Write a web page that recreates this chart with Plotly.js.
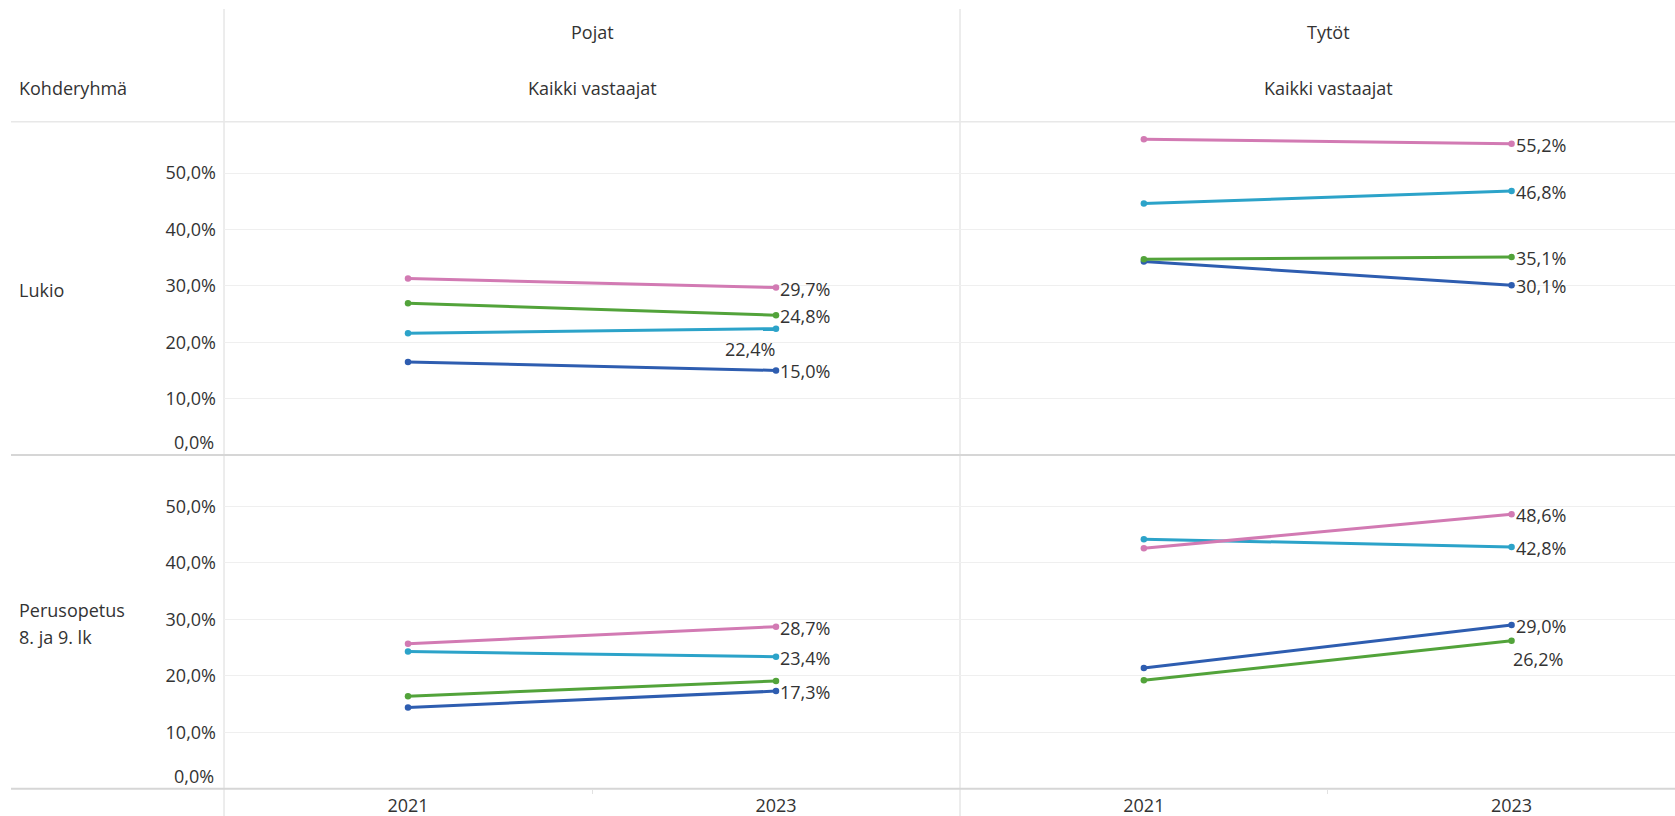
<!DOCTYPE html>
<html>
<head>
<meta charset="utf-8">
<script src="https://cdn.plot.ly/plotly-3.0.1.min.js"></script>
<style>html,body{margin:0;padding:0;background:#fff;}#chart{width:1675px;height:816px;}</style>
</head>
<body>
<div id="chart"></div>
<script>
// ---------- data ----------
const years = [2021, 2023];
const yTicks = [10, 20, 30, 40, 50];
const colHeaders = ['Pojat', 'Tytöt'];
const subHeader = 'Kaikki vastaajat';
const rowHeaderTitle = 'Kohderyhmä';
const rowLukio = ['Lukio'];
const rowPerus = ['Perusopetus', '8. ja 9. lk'];
const seriesNames = ['Sininen', 'Turkoosi', 'Vihreä', 'Pinkki'];

// Lukio – Pojat
const lukioPojatBlue  = [16.5, 15.0];
const lukioPojatCyan  = [21.6, 22.4];
const lukioPojatGreen = [26.9, 24.8];
const lukioPojatPink  = [31.3, 29.7];
// Lukio – Tytöt
const lukioTytotBlue  = [34.3, 30.1];
const lukioTytotCyan  = [44.6, 46.8];
const lukioTytotGreen = [34.7, 35.1];
const lukioTytotPink  = [56.0, 55.2];
// Perusopetus – Pojat
const perusPojatBlue  = [14.4, 17.3];
const perusPojatCyan  = [24.3, 23.4];
const perusPojatGreen = [16.4, 19.1];
const perusPojatPink  = [25.7, 28.7];
// Perusopetus – Tytöt
const perusTytotBlue  = [21.4, 29.0];
const perusTytotCyan  = [44.2, 42.8];
const perusTytotGreen = [19.2, 26.2];
const perusTytotPink  = [42.6, 48.6];

// ---------- styling ----------
const colors = ['#2E5DB0', '#2CA3C9', '#52A33A', '#D27AB3'];
const W = 1675, H = 816;
const px = v => v / W;
const py = v => 1 - v / H;
const fmt = v => v.toFixed(1).replace('.', ',') + '%';
const txtColor = '#333333';
const FONT = '"Open Sans", "Noto Sans", sans-serif';

// label placement per series: 'r' = right of last point, 'bl' = below-left, 'br' = below-right, null = hidden
const panels = [
  {xa: 'x',  ya: 'y',  data: [lukioPojatBlue, lukioPojatCyan, lukioPojatGreen, lukioPojatPink], lab: ['r', 'bl', 'r', 'r']},
  {xa: 'x2', ya: 'y2', data: [lukioTytotBlue, lukioTytotCyan, lukioTytotGreen, lukioTytotPink], lab: ['r', 'r', 'r', 'r']},
  {xa: 'x3', ya: 'y3', data: [perusPojatBlue, perusPojatCyan, perusPojatGreen, perusPojatPink], lab: ['r', 'r', null, 'r']},
  {xa: 'x4', ya: 'y4', data: [perusTytotBlue, perusTytotCyan, perusTytotGreen, perusTytotPink], lab: ['r', 'r', 'br', 'r']}
];

const traces = [];
const dataLabels = [];
panels.forEach(p => {
  p.data.forEach((vals, i) => {
    traces.push({
      type: 'scatter', mode: 'lines+markers',
      x: years, y: vals, xaxis: p.xa, yaxis: p.ya,
      name: seriesNames[i],
      line: {color: colors[i], width: 3},
      marker: {color: colors[i], size: 6.5},
      hoverinfo: 'x+y'
    });
    const kind = p.lab[i];
    if (!kind) return;
    const last = vals.length - 1;
    const a = {text: fmt(vals[last]), x: years[last], y: vals[last], xref: p.xa, yref: p.ya,
      showarrow: false, font: {family: FONT, size: 18, color: txtColor}, yanchor: 'middle'};
    if (kind === 'r') { a.xanchor = 'left'; a.xshift = 2; a.yshift = -1; }
    else if (kind === 'bl') { a.xanchor = 'right'; a.xshift = 1; a.yshift = -20; }
    else if (kind === 'br') { a.xanchor = 'left'; a.xshift = -1; a.yshift = -18; }
    dataLabels.push(a);
  });
});

const col1 = [px(224), px(960)];
const col2 = [px(960), 1];
const row1 = [py(455), py(121.7)];
const row2 = [py(788.8), py(455)];
const yRange = [0, 59.1];

function yAxis(domain, anchor, labels) {
  return {domain, anchor, range: yRange, tickvals: yTicks, ticktext: yTicks.map(fmt),
    showticklabels: labels, showgrid: true, gridcolor: '#efefef', gridwidth: 1,
    zeroline: false, showline: false, ticks: '', ticklabelstandoff: 7,
    tickfont: {family: FONT, size: 18, color: txtColor}, fixedrange: true};
}
function xAxis(domain, anchor, range, labels) {
  return {domain, anchor, range, tickvals: years, ticktext: years.map(String),
    showticklabels: labels, showgrid: false, zeroline: false, showline: false, ticks: '',
    ticklabelstandoff: 4,
    minor: labels ? {tickmode: 'array', tickvals: [2022], ticks: 'outside', ticklen: 4, tickcolor: '#e2e2e2', showgrid: false} : undefined,
    tickfont: {family: FONT, size: 18, color: txtColor}, fixedrange: true};
}

const ann = (text, x, y, xanchor, extra) => Object.assign({
  text, x, y, xref: 'paper', yref: 'paper', xanchor, yanchor: 'middle', showarrow: false,
  font: {family: FONT, size: 18, color: txtColor}}, extra || {});

const annotations = [
  ann(colHeaders[0], px(592), py(32), 'center'),
  ann(colHeaders[1], px(1328), py(32), 'center'),
  ann(subHeader, px(592), py(88), 'center'),
  ann(subHeader, px(1328), py(88), 'center'),
  ann(rowHeaderTitle, px(17), py(88), 'left'),
  ann(rowLukio[0], px(17), py(290), 'left'),
  ann(rowPerus[0], px(17), py(610), 'left'),
  ann(rowPerus[1], px(17), py(637), 'left'),
  ann(fmt(0), px(216), 0, 'right', {yref: 'y', yanchor: 'bottom', yshift: -1}),
  ann(fmt(0), px(216), 0, 'right', {yref: 'y3', yanchor: 'bottom', yshift: -1})
].concat(dataLabels);

const lineShape = (x0, y0, x1, y1, color, width) => ({type: 'line', xref: 'paper', yref: 'paper',
  x0, y0, x1, y1, line: {color, width}, layer: 'below'});
const shapes = [
  lineShape(px(224), py(9), px(224), 0, '#dadada', 1),
  lineShape(px(960), py(9), px(960), 0, '#dadada', 1),
  lineShape(px(11), py(121.7), 1, py(121.7), '#e8e8e8', 1.5),
  lineShape(px(11), py(455), 1, py(455), '#d6d6d6', 2),
  lineShape(px(11), py(788.8), 1, py(788.8), '#d6d6d6', 2)
];

const layout = {
  width: W, height: H, margin: {l: 0, r: 0, t: 0, b: 0, pad: 0},
  paper_bgcolor: '#ffffff', plot_bgcolor: 'rgba(0,0,0,0)',
  separators: ', ', showlegend: false,
  font: {family: FONT, size: 18, color: txtColor},
  xaxis:  xAxis(col1, 'y',  [2020, 2024], false),
  xaxis2: xAxis(col2, 'y2', [2020, 2023.889], false),
  xaxis3: xAxis(col1, 'y3', [2020, 2024], true),
  xaxis4: xAxis(col2, 'y4', [2020, 2023.889], true),
  yaxis:  yAxis(row1, 'x',  true),
  yaxis2: yAxis(row1, 'x2', false),
  yaxis3: yAxis(row2, 'x3', true),
  yaxis4: yAxis(row2, 'x4', false),
  annotations, shapes
};

Plotly.newPlot('chart', traces, layout, {displayModeBar: false, staticPlot: true});
</script>
</body>
</html>
